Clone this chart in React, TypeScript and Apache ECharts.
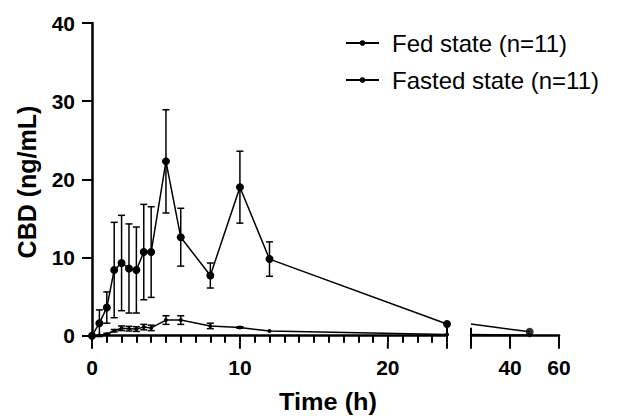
import React, { useEffect, useRef } from "react";
import * as echarts from "echarts";

const times = [0, 0.5, 1, 1.5, 2, 2.5, 3, 3.5, 4, 5, 6, 8, 10, 12, 24, 48];
const fedMean = [0, 1.6, 3.6, 8.4, 9.3, 8.6, 8.4, 10.7, 10.7, 22.3, 12.6, 7.7, 19.0, 9.8, 1.5, 0.5];
const fedSD = [0, 1.7, 2.0, 6.1, 6.1, 5.7, 5.5, 6.1, 5.8, 6.6, 3.7, 1.6, 4.6, 2.2, 0, 0];
const fastedMean = [0, 0.05, 0.2, 0.64, 0.95, 0.9, 0.85, 1.1, 1.0, 2.0, 2.0, 1.25, 1.05, 0.6, 0.15, 0.05];
const fastedSD = [0, 0, 0.1, 0.15, 0.3, 0.3, 0.3, 0.35, 0.35, 0.55, 0.55, 0.35, 0.1, 0, 0, 0];

const seg1Range = [0, 24];
const seg1Labels = [0, 10, 20];
const seg2Range = [24, 60];
const seg2Labels = [40, 60];
const yRange = [0, 40];

const FED = "Fed state (n=11)";
const FASTED = "Fasted state (n=11)";

const FONT = "Liberation Sans, Arial, sans-serif";
const BLACK = "#000";

function errData(mean: number[], sd: number[], pred: (t: number) => boolean) {
  const out: number[][] = [];
  times.forEach((t, i) => {
    if (sd[i] > 0 && pred(t)) out.push([t, mean[i] - sd[i], mean[i] + sd[i]]);
  });
  return out;
}

function pts(mean: number[], pred: (t: number) => boolean) {
  const out: number[][] = [];
  times.forEach((t, i) => {
    if (pred(t)) out.push([t, mean[i]]);
  });
  return out;
}

const errRender = (params: any, api: any) => {
  const x = api.value(0);
  const lo = api.coord([x, api.value(1)]);
  const hi = api.coord([x, api.value(2)]);
  const w = 3.5;
  const st = { stroke: BLACK, lineWidth: 1.5 };
  return {
    type: "group",
    children: [
      { type: "line", shape: { x1: lo[0], y1: lo[1], x2: hi[0], y2: hi[1] }, style: st },
      { type: "line", shape: { x1: lo[0] - w, y1: lo[1], x2: lo[0] + w, y2: lo[1] }, style: st },
      { type: "line", shape: { x1: hi[0] - w, y1: hi[1], x2: hi[0] + w, y2: hi[1] }, style: st },
    ],
  };
};

export default function App() {
  const ref = useRef<HTMLDivElement>(null);
  useEffect(() => {
    if (!ref.current) return;
    const chart = echarts.init(ref.current, null, { renderer: "svg" });
    const in1 = (t: number) => t <= seg1Range[1];
    const in2 = (t: number) => t >= seg2Range[0];
    const after2 = (t: number) => t > seg2Range[0];

    const labelStyle = { color: BLACK, fontSize: 21, fontWeight: "bold", fontFamily: FONT };
    const tickStyle = { color: BLACK, width: 2 };

    const titles = [
      {
        type: "text", x: 328, y: 402, scaleX: 1.1,
        style: { text: "Time (h)", fill: BLACK, font: `bold 23px ${FONT}`, textAlign: "center", textVerticalAlign: "middle" },
      },
      {
        type: "text", x: 27, y: 182, rotation: Math.PI / 2,
        style: { text: "CBD (ng/mL)", fill: BLACK, font: `bold 25px ${FONT}`, textAlign: "center", textVerticalAlign: "middle" },
      },
    ];

    const lineCommon = { lineStyle: { color: BLACK, width: 1.5 }, itemStyle: { color: BLACK }, z: 3 };

    chart.setOption({
      animation: false,
      backgroundColor: "#fff",
      grid: [
        { left: 92, top: 23, width: 355, height: 312.7 },
        { left: 471, top: 23, width: 88, height: 312.7 },
      ],
      xAxis: [
        {
          gridIndex: 0, type: "value", min: seg1Range[0], max: seg1Range[1], interval: 1,
          axisLine: { show: true, onZero: false, lineStyle: { color: BLACK, width: 2.5 } },
          axisTick: { show: true, length: 7, lineStyle: tickStyle },
          axisLabel: { ...labelStyle, customValues: seg1Labels, margin: 21 },
          splitLine: { show: false },
        },
        {
          gridIndex: 1, type: "value", min: seg2Range[0], max: seg2Range[1],
          axisLine: { show: true, onZero: false, lineStyle: { color: BLACK, width: 2.5 } },
          axisTick: { show: true, customValues: [seg2Range[0], ...seg2Labels], length: 13, lineStyle: tickStyle },
          axisLabel: { ...labelStyle, customValues: seg2Labels, margin: 21 },
          splitLine: { show: false },
        },
      ],
      yAxis: [
        {
          gridIndex: 0, type: "value", min: yRange[0], max: yRange[1], interval: 10,
          axisLine: { show: true, onZero: false, lineStyle: { color: BLACK, width: 2.5 } },
          axisTick: { show: true, length: 10, lineStyle: tickStyle },
          axisLabel: { ...labelStyle, margin: 17 },
          splitLine: { show: false },
        },
        { gridIndex: 1, type: "value", min: yRange[0], max: yRange[1], interval: 10, show: false },
      ],
      legend: {
        data: [FED, FASTED], orient: "vertical", left: 340, top: 26,
        itemWidth: 33, itemHeight: 7, itemGap: 13,
        textStyle: { color: BLACK, fontSize: 24, fontFamily: FONT, padding: [0, 0, 0, 8] },
      },
      graphic: titles,
      series: [
        { name: FED, type: "line", xAxisIndex: 0, yAxisIndex: 0, data: pts(fedMean, in1), symbol: "circle", symbolSize: 8, ...lineCommon },
        { name: "fedErr", type: "custom", xAxisIndex: 0, yAxisIndex: 0, silent: true, data: errData(fedMean, fedSD, in1), renderItem: errRender, encode: { x: 0, y: [1, 2] }, z: 2 },
        { name: FASTED, type: "line", xAxisIndex: 0, yAxisIndex: 0, data: pts(fastedMean, in1), symbol: "circle", symbolSize: 4, ...lineCommon },
        { name: "fastedErr", type: "custom", xAxisIndex: 0, yAxisIndex: 0, silent: true, data: errData(fastedMean, fastedSD, in1), renderItem: errRender, encode: { x: 0, y: [1, 2] }, z: 2 },
        { name: FED, type: "line", xAxisIndex: 1, yAxisIndex: 1, data: pts(fedMean, in2), symbol: "none", ...lineCommon },
        { name: FED, type: "scatter", xAxisIndex: 1, yAxisIndex: 1, data: pts(fedMean, after2), symbol: "circle", symbolSize: 8, itemStyle: { color: BLACK }, z: 4 },
        { name: FASTED, type: "line", xAxisIndex: 1, yAxisIndex: 1, data: pts(fastedMean, in2), symbol: "none", ...lineCommon },
        { name: FASTED, type: "scatter", xAxisIndex: 1, yAxisIndex: 1, data: pts(fastedMean, after2), symbol: "circle", symbolSize: 4, itemStyle: { color: BLACK }, z: 4 },
      ],
    });

    // longer major ticks and segment-end caps, placed through the axes' own scales
    const extra = [
      { grid: 0, values: [...seg1Labels, seg1Range[1]], from: 7, to: 13 },
      { grid: 0, values: [seg1Range[1]], from: 0, to: -9 },
      { grid: 1, values: [seg2Range[0]], from: 0, to: -8 },
    ];
    const tickLines: any[] = [];
    extra.forEach((s) => {
      s.values.forEach((v) => {
        const p = chart.convertToPixel({ gridIndex: s.grid } as any, [v, yRange[0]]) as any;
        if (!p || !isFinite(p[0])) return;
        tickLines.push({
          type: "line", z: 10,
          shape: { x1: p[0], y1: p[1] + s.from, x2: p[0], y2: p[1] + s.to },
          style: { stroke: BLACK, lineWidth: 2 },
        });
      });
    });
    chart.setOption({ graphic: [...titles, ...tickLines] });
    return () => chart.dispose();
  }, []);
  return (
    <div
      ref={ref}
      style={{ position: "fixed", left: 0, top: 0, width: 619, height: 416, background: "#fff" }}
    />
  );
}
